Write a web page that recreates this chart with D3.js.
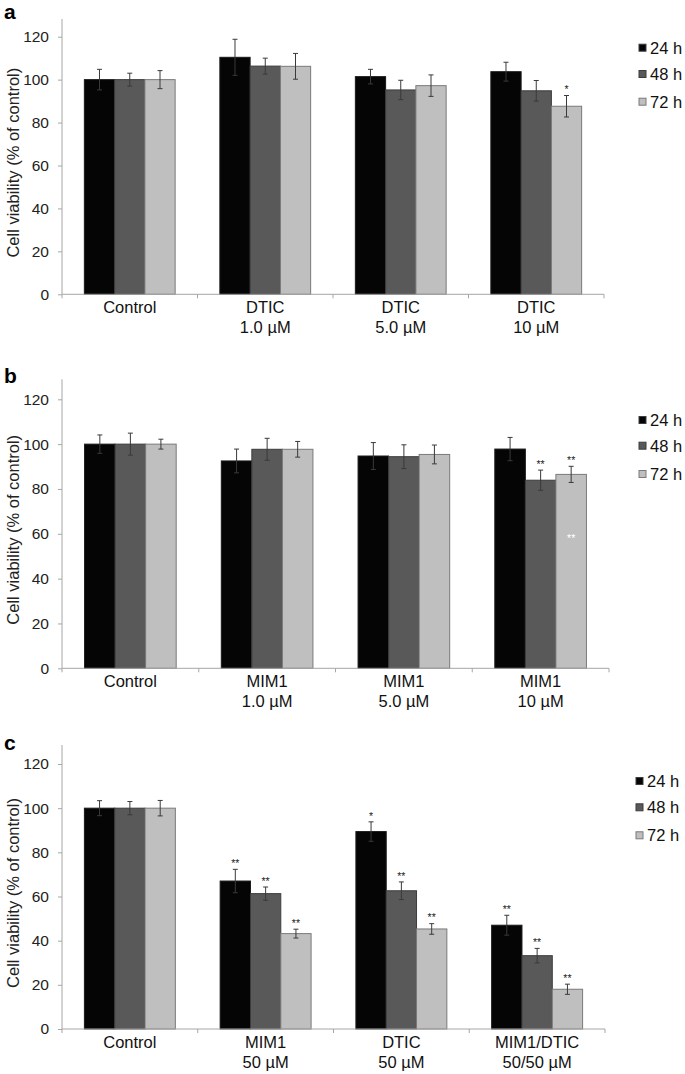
<!DOCTYPE html>
<html>
<head>
<meta charset="utf-8">
<title>Cell viability</title>
<script src="https://cdn.jsdelivr.net/npm/d3@7"></script>
<style>
  body { margin: 0; background: #fff; }
  svg text { font-family: "Liberation Sans", Arial, sans-serif; }
</style>
</head>
<body>
<svg id="fig" width="685" height="1074"></svg>
<script>
// series (incubation time)
var series = ["24 h", "48 h", "72 h"];
var seriesColors = ["#050505", "#595959", "#bfbfbf"];
var yTicks = [0, 20, 40, 60, 80, 100, 120];

// panel a
var catsA = [["Control"], ["DTIC", "1.0 µM"], ["DTIC", "5.0 µM"], ["DTIC", "10 µM"]];
var meansA = [[100, 100, 100], [110.4, 106.3, 106.2], [101.4, 95.2, 97.2], [103.7, 94.8, 87.6]];
var errA = [[4.8, 3, 4.2], [8.4, 3.7, 6], [3.4, 4.5, 5], [4.4, 4.8, 5]];
var sigA = [["", "", ""], ["", "", ""], ["", "", ""], ["", "", "*"]];

// panel b
var catsB = [["Control"], ["MIM1", "1.0 µM"], ["MIM1", "5.0 µM"], ["MIM1", "10 µM"]];
var meansB = [[100, 100, 100], [92.5, 97.7, 97.7], [94.7, 94.4, 95.4], [97.8, 83.9, 86.5]];
var errB = [[4.1, 4.9, 2.2], [5.3, 4.9, 3.5], [6, 5.3, 4.2], [5.2, 4.5, 3.6]];
var sigB = [["", "", ""], ["", "", ""], ["", "", ""], ["", "**", "**"]];
// stray white marks inside the 72 h bar of MIM1 10 µM
var extraB = [{cat: 3, s: 2, value: 59, text: "**"}];

// panel c
var catsC = [["Control"], ["MIM1", "50 µM"], ["DTIC", "50 µM"], ["MIM1/DTIC", "50/50 µM"]];
var meansC = [[100, 100, 100], [67, 61.3, 43.2], [89.4, 62.6, 45.3], [47, 33.2, 18]];
var errC = [[3.4, 3, 3.5], [5.3, 3, 2], [4.4, 4, 2.4], [4.5, 3.3, 2.3]];
var sigC = [["", "", ""], ["**", "**", "**"], ["*", "**", "**"], ["**", "**", "**"]];

var panels = [
  {label: "a", labelY: 19, cats: catsA, means: meansA, errs: errA, sig: sigA, extra: [],
   xl: 62, xr: 604, yZero: 294.3, y120: 36.7, top: 19, legX: 639, legY: [47.7, 74, 101.7]},
  {label: "b", labelY: 383, cats: catsB, means: meansB, errs: errB, sig: sigB, extra: extraB,
   xl: 62, xr: 609, yZero: 668.3, y120: 399.3, top: 379.3, legX: 639, legY: [420, 445.7, 474]},
  {label: "c", labelY: 750, cats: catsC, means: meansC, errs: errC, sig: sigC, extra: [],
   xl: 62, xr: 605, yZero: 1029, y120: 764, top: 745, legX: 636, legY: [781, 807.3, 835.3]}
];

var svg = d3.select("#fig");

panels.forEach(function(p) {
  var g = svg.append("g");
  var catIdx = p.cats.map(function(d, i) { return i; });

  var x0 = d3.scaleBand().domain(catIdx).range([p.xl, p.xr])
    .paddingInner(0.33).paddingOuter(0.165);
  var x1 = d3.scaleBand().domain(series).range([0, x0.bandwidth()]);
  var y = d3.scaleLinear().domain([0, 120]).range([p.yZero, p.y120]);
  var step = x0.step();

  // panel letter
  g.append("text").attr("x", 4).attr("y", p.labelY)
    .attr("font-size", "21px").attr("font-weight", "bold").attr("fill", "#000")
    .text(p.label);

  // y axis
  var yAxis = d3.axisLeft(y).tickValues(yTicks).tickSize(4).tickPadding(9);
  var ya = g.append("g").attr("transform", "translate(" + p.xl + ",0)").call(yAxis);
  ya.select(".domain").remove();
  ya.selectAll(".tick line").attr("stroke", "#a6a6a6");
  ya.selectAll(".tick text")
    .style("font-size", "15.5px")
    .style("font-family", "'Liberation Sans', Arial, sans-serif")
    .attr("fill", "#222");
  g.append("line").attr("x1", p.xl).attr("x2", p.xl)
    .attr("y1", p.top).attr("y2", p.yZero).attr("stroke", "#a6a6a6");

  // y title
  var midY = (p.yZero + p.top) / 2 + 6;
  g.append("text").attr("transform", "translate(19," + midY + ") rotate(-90)")
    .attr("text-anchor", "middle").attr("font-size", "16.5px").attr("fill", "#222")
    .text("Cell viability (% of control)");

  // bars
  p.means.forEach(function(row, ci) {
    row.forEach(function(v, si) {
      var bx = x0(ci) + x1(series[si]);
      g.append("rect")
        .attr("x", bx).attr("y", y(v))
        .attr("width", x1.bandwidth()).attr("height", y(0) - y(v))
        .attr("fill", seriesColors[si])
        .attr("stroke", si === 0 ? "#1a1a1a" : (si === 1 ? "#3c3c3c" : "#7a7a7a"))
        .attr("stroke-width", 1);
    });
  });

  // error bars and stars
  p.means.forEach(function(row, ci) {
    row.forEach(function(v, si) {
      var cx = x0(ci) + x1(series[si]) + x1.bandwidth() / 2;
      var e = p.errs[ci][si];
      var col = "#3a3a3a";
      g.append("line").attr("x1", cx).attr("x2", cx)
        .attr("y1", y(v + e)).attr("y2", y(v - e)).attr("stroke", col);
      [v + e, v - e].forEach(function(t) {
        g.append("line").attr("x1", cx - 2.5).attr("x2", cx + 2.5)
          .attr("y1", y(t)).attr("y2", y(t)).attr("stroke", col);
      });
      var s = p.sig[ci][si];
      if (s) {
        g.append("text").attr("x", cx).attr("y", y(v + e) - 2.3)
          .attr("text-anchor", "middle").attr("font-size", "10.5px").attr("fill", "#222")
          .text(s);
      }
    });
  });

  p.extra.forEach(function(m) {
    var cx = x0(m.cat) + x1(series[m.s]) + x1.bandwidth() / 2;
    g.append("text").attr("x", cx).attr("y", y(m.value) + 5.7)
      .attr("text-anchor", "middle").attr("font-size", "10.5px").attr("fill", "#fff")
      .text(m.text);
  });

  // x axis
  g.append("line").attr("x1", p.xl).attr("x2", p.xr)
    .attr("y1", p.yZero).attr("y2", p.yZero).attr("stroke", "#a6a6a6");
  d3.range(p.cats.length + 1).forEach(function(i) {
    var tx = p.xl + i * step;
    g.append("line").attr("x1", tx).attr("x2", tx)
      .attr("y1", p.yZero).attr("y2", p.yZero + 4).attr("stroke", "#a6a6a6");
  });

  // category labels
  p.cats.forEach(function(lines, ci) {
    var t = g.append("text").attr("text-anchor", "middle")
      .attr("font-size", "16.5px").attr("fill", "#111");
    lines.forEach(function(ln, li) {
      t.append("tspan").attr("x", x0(ci) + x0.bandwidth() / 2)
        .attr("y", p.yZero + 18.5 + li * 20.5).text(ln);
    });
  });

  // legend
  series.forEach(function(s, si) {
    var ly = p.legY[si];
    g.append("rect").attr("x", p.legX).attr("y", ly - 3.5)
      .attr("width", 7).attr("height", 7)
      .attr("fill", seriesColors[si]).attr("stroke", si === 2 ? "#7a7a7a" : "#3c3c3c");
    g.append("text").attr("x", p.legX + 11).attr("y", ly + 6)
      .attr("font-size", "16.5px").attr("fill", "#111")
      .text(s);
  });
});
</script>
</body>
</html>
